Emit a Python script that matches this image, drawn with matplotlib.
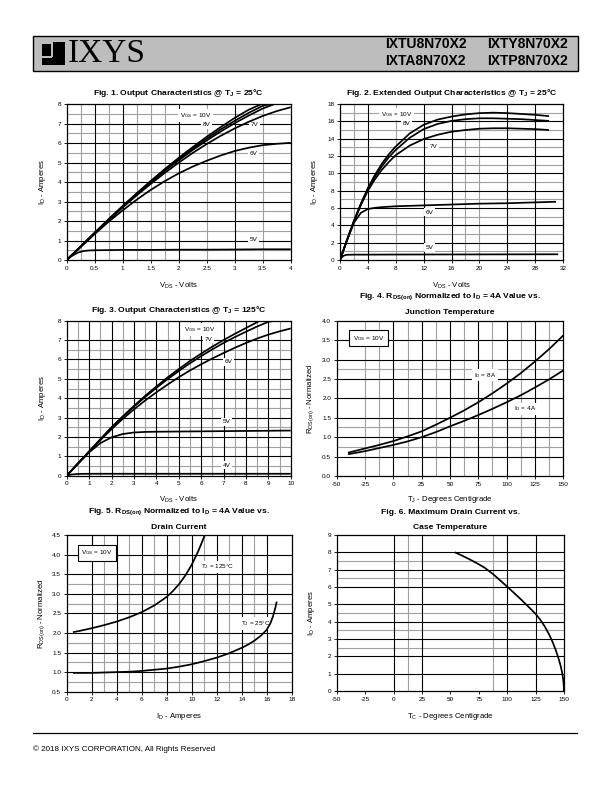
import matplotlib
matplotlib.use('Agg')
import matplotlib.pyplot as plt
from matplotlib.patches import Rectangle

plt.rcParams['font.family'] = ['Liberation Sans', 'DejaVu Sans']
plt.rcParams['mathtext.fontset'] = 'custom'
plt.rcParams['mathtext.rm'] = 'Liberation Sans'
plt.rcParams['mathtext.it'] = 'Liberation Sans:italic'
plt.rcParams['mathtext.bf'] = 'Liberation Sans:bold'

# ---- Fig. 1 data (Tj = 25C, 0-4 V) ----
f1_x10 = [0, 0.25, 0.5, 0.75, 1, 1.25, 1.5, 1.75, 2, 2.25, 2.5, 2.75, 3, 3.25, 3.47]
f1_y10 = [0, 0.7, 1.4, 2.1, 2.78, 3.43, 4.06, 4.67, 5.25, 5.8, 6.33, 6.83, 7.3, 7.72, 8.0]
f1_x9 = [0, 0.25, 0.5, 0.75, 1, 1.25, 1.5, 1.75, 2, 2.25, 2.5, 2.75, 3, 3.25, 3.5, 3.62]
f1_y9 = [0, 0.7, 1.4, 2.09, 2.76, 3.4, 4.02, 4.62, 5.18, 5.72, 6.23, 6.71, 7.15, 7.56, 7.92, 8.0]
f1_x8 = [0, 0.25, 0.5, 0.75, 1, 1.25, 1.5, 1.75, 2, 2.25, 2.5, 2.75, 3, 3.25, 3.5, 3.7]
f1_y8 = [0, 0.69, 1.39, 2.08, 2.74, 3.37, 3.98, 4.57, 5.12, 5.65, 6.14, 6.6, 7.03, 7.42, 7.78, 8.0]
f1_x = [0, 0.25, 0.5, 0.75, 1, 1.25, 1.5, 1.75, 2, 2.25, 2.5, 2.75, 3, 3.25, 3.5, 3.75, 4]
f1_y7 = [0, 0.68, 1.37, 2.05, 2.7, 3.32, 3.91, 4.47, 5.0, 5.5, 5.96, 6.38, 6.76, 7.1, 7.4, 7.65, 7.85]
f1_y6 = [0, 0.67, 1.33, 1.97, 2.55, 3.1, 3.6, 4.05, 4.45, 4.8, 5.1, 5.37, 5.6, 5.77, 5.9, 5.97, 6.02]
f1_x5 = [0, 0.1, 0.2, 0.3, 0.4, 0.5, 0.75, 1, 1.5, 2, 2.5, 3, 3.5, 4]
f1_y5 = [0, 0.22, 0.38, 0.46, 0.49, 0.5, 0.51, 0.52, 0.52, 0.53, 0.53, 0.54, 0.55, 0.55]

# ---- Fig. 2 data (extended, 0-32 V) ----
f2_x = [0, 1, 2, 3, 4, 5, 6, 7, 8, 10, 12, 14, 16, 18, 20, 22, 24, 26, 28, 30]
f2_y10 = [0, 2.3, 4.5, 6.5, 8.3, 9.8, 11.1, 12.2, 13.1, 14.6, 15.6, 16.2, 16.55, 16.8, 16.95, 17.0, 16.95, 16.85, 16.75, 16.6]
f2_y8 = [0, 2.3, 4.5, 6.45, 8.2, 9.6, 10.8, 11.85, 12.7, 14.1, 15.1, 15.7, 16.05, 16.25, 16.35, 16.35, 16.3, 16.25, 16.15, 16.05]
f2_y7 = [0, 2.3, 4.45, 6.35, 8.0, 9.3, 10.4, 11.3, 12.1, 13.2, 13.95, 14.45, 14.8, 15.0, 15.15, 15.2, 15.2, 15.15, 15.1, 15.0]
f2_x6 = [0, 1, 2, 3, 4, 5, 6, 8, 10, 12, 16, 20, 24, 28, 31]
f2_y6 = [0, 2.25, 4.3, 5.45, 5.88, 6.02, 6.1, 6.2, 6.25, 6.3, 6.4, 6.5, 6.55, 6.65, 6.72]
f2_x5 = [0, 0.25, 0.5, 0.75, 1, 2, 4, 8, 16, 24, 31.3]
f2_y5 = [0, 0.3, 0.48, 0.56, 0.6, 0.62, 0.62, 0.63, 0.64, 0.65, 0.66]

# ---- Fig. 3 data (Tj = 125C, 0-10 V) ----
f3_x10 = [0, 0.5, 1, 1.5, 2, 2.5, 3, 3.5, 4, 4.5, 5, 5.5, 6, 6.5, 7, 7.5, 8, 8.63]
f3_y10 = [0, 0.63, 1.25, 1.88, 2.5, 3.06, 3.6, 4.12, 4.6, 5.07, 5.5, 5.92, 6.3, 6.66, 7.0, 7.32, 7.62, 8.0]
f3_x7 = [0, 0.5, 1, 1.5, 2, 2.5, 3, 3.5, 4, 4.5, 5, 5.5, 6, 6.5, 7, 7.5, 8, 8.5, 9, 9.3]
f3_y7 = [0, 0.63, 1.25, 1.87, 2.48, 3.03, 3.56, 4.06, 4.53, 4.98, 5.4, 5.8, 6.17, 6.52, 6.85, 7.15, 7.43, 7.7, 7.94, 8.0]
f3_x6 = [0, 0.5, 1, 1.5, 2, 2.5, 3, 3.5, 4, 4.5, 5, 5.5, 6, 6.5, 7, 7.5, 8, 8.5, 9, 9.5, 10]
f3_y6 = [0, 0.62, 1.23, 1.83, 2.4, 2.93, 3.42, 3.88, 4.3, 4.7, 5.08, 5.43, 5.75, 6.05, 6.33, 6.6, 6.85, 7.08, 7.28, 7.45, 7.6]
f3_x5 = [0, 0.5, 1, 1.5, 2, 2.5, 3, 3.5, 4, 5, 6, 7, 8, 9, 10]
f3_y5 = [0, 0.62, 1.2, 1.68, 1.98, 2.15, 2.23, 2.26, 2.27, 2.28, 2.29, 2.3, 2.31, 2.32, 2.33]
f3_x4 = [0, 0.2, 0.5, 1, 2, 4, 6, 8, 10]
f3_y4 = [0, 0.06, 0.09, 0.1, 0.1, 0.1, 0.1, 0.1, 0.1]

# ---- Fig. 4 data (RDS(on) vs Tj) ----
f4_t = [-40, -25, -12.5, 0, 12.5, 25, 37.5, 50, 62.5, 75, 87.5, 100, 112.5, 125, 137.5, 150]
f4_r8 = [0.6, 0.71, 0.8, 0.9, 1.02, 1.15, 1.32, 1.5, 1.69, 1.9, 2.13, 2.38, 2.65, 2.95, 3.27, 3.62]
f4_r4 = [0.56, 0.64, 0.72, 0.8, 0.89, 1.0, 1.13, 1.28, 1.42, 1.57, 1.73, 1.9, 2.08, 2.28, 2.49, 2.72]

# ---- Fig. 5 data (RDS(on) vs ID) ----
f5_i125 = [0.5, 1, 2, 3, 4, 5, 6, 7, 8, 8.5, 9, 9.5, 10, 10.5, 10.8, 11.05]
f5_r125 = [2.02, 2.05, 2.12, 2.2, 2.29, 2.4, 2.53, 2.7, 2.92, 3.07, 3.25, 3.47, 3.74, 4.07, 4.3, 4.5]
f5_i25 = [0.5, 1, 2, 3, 4, 5, 6, 7, 8, 9, 10, 11, 12, 13, 14, 14.5, 15, 15.5, 16, 16.3, 16.5, 16.7, 16.8]
f5_r25 = [0.98, 0.98, 0.98, 0.99, 1.0, 1.01, 1.03, 1.06, 1.09, 1.14, 1.2, 1.28, 1.37, 1.48, 1.62, 1.7, 1.8, 1.92, 2.08, 2.25, 2.42, 2.65, 2.8]

# ---- Fig. 6 data (max ID vs Tc) ----
f6_tc = [54, 60, 65, 70, 75, 80, 87.5, 100, 106, 112.5, 118, 125, 129, 133, 137, 140,
         142.5, 144.5, 146, 147.3, 148.3, 149, 149.6, 150]
f6_id = [8.0, 7.82, 7.66, 7.49, 7.31, 7.12, 6.75, 6.02, 5.66, 5.26, 4.91, 4.45, 4.12, 3.73,
         3.25, 2.82, 2.4, 2.02, 1.7, 1.38, 1.08, 0.8, 0.48, 0.0]

W, H = 612, 792
fig = plt.figure(figsize=(6.12, 7.92), dpi=100)


def px_axes(x0, y0, x1, y1):
    return fig.add_axes([x0 / W, 1 - y1 / H, (x1 - x0) / W, (y1 - y0) / H])


GRAY = '#a0a0a0'
LW = 1.25
TICK_FS = 4.6
LAB_FS = 5.6
TITLE_FS = 6.1
NOTE_FS = 4.6


def setup(ax, xlim, ylim, xticks, yticks, xlabels, ylabels, bx, gx, by, gy,
          xlabel, ylabel, titles, xl_y, yl_x):
    ax.set_xlim(*xlim)
    ax.set_ylim(*ylim)
    for v in gx:
        ax.axvline(v, color=GRAY, lw=0.8, zorder=1)
    for v in gy:
        ax.axhline(v, color=GRAY, lw=0.8, zorder=1)
    for v in bx:
        ax.axvline(v, color='black', lw=0.8, zorder=1.5)
    for v in by:
        ax.axhline(v, color='black', lw=0.8, zorder=1.5)
    ax.set_xticks(xticks)
    ax.set_xticklabels(xlabels, fontsize=TICK_FS)
    ax.set_yticks(yticks)
    ax.set_yticklabels(ylabels, fontsize=TICK_FS)
    ax.tick_params(direction='out', length=2, width=0.6, pad=2)
    for s in ax.spines.values():
        s.set_linewidth(0.9)
    ax.set_xlabel(xlabel, fontsize=LAB_FS)
    ax.set_ylabel(ylabel, fontsize=LAB_FS)
    ax.xaxis.set_label_coords(0.5, xl_y)
    ax.yaxis.set_label_coords(yl_x, 0.5)
    # title lines placed one by one (mathtext would stretch the line spacing)
    for s, ty in titles:
        ax.text(0.5, ty, s, transform=ax.transAxes, ha='center', va='center',
                fontsize=TITLE_FS, fontweight='bold')


def note(ax, x, y, s, boxed=False):
    if boxed:
        bb = dict(facecolor='white', edgecolor='black', linewidth=0.8, pad=2.5)
    else:
        bb = dict(facecolor='white', edgecolor='none', pad=1.2)
    ax.text(x, y, s, fontsize=NOTE_FS, ha='center', va='center', bbox=bb, zorder=3)


def curve(ax, x, y):
    ax.plot(x, y, color='black', lw=LW, zorder=4, solid_capstyle='butt')


VDS = r'V$_{\rm DS}$ - Volts'
IDA = r'I$_{\rm D}$ - Amperes'
VGS10 = r'V$_{\rm GS}$ = 10V'
RDS = r'R$_{\rm DS(on)}$ - Normalized'
RDS_TITLE = r'R$_{\bf DS(on)}$ Normalized to I$_{\bf D}$ = 4A Value vs.'

# Fig. 1
ax1 = px_axes(66.7, 104.3, 290.7, 260)
setup(ax1, (0, 4), (0, 8),
      [0, 0.5, 1, 1.5, 2, 2.5, 3, 3.5, 4], range(9),
      ['0', '0.5', '1', '1.5', '2', '2.5', '3', '3.5', '4'], [str(i) for i in range(9)],
      [0.5, 1, 2, 3], [0.25, 0.75, 1.25, 1.5, 1.75, 2.5, 3.5],
      range(1, 8), [0.5 + i for i in range(8)],
      VDS, IDA, [(r'Fig. 1. Output Characteristics @ T$_{\bf J}$ = 25°C', 1.07)], -0.135, -0.083)
for xs, ys in [(f1_x10, f1_y10), (f1_x9, f1_y9), (f1_x8, f1_y8), (f1_x, f1_y7),
               (f1_x, f1_y6), (f1_x5, f1_y5)]:
    curve(ax1, xs, ys)
note(ax1, 2.3, 7.42, VGS10)
note(ax1, 2.5, 6.97, '8V')
note(ax1, 3.36, 6.97, '7V')
note(ax1, 3.33, 5.48, '6V')
note(ax1, 3.33, 1.03, '5V')

# Fig. 2
ax2 = px_axes(340, 104, 563, 260)
setup(ax2, (0, 32), (0, 18),
      range(0, 33, 4), range(0, 19, 2),
      [str(i) for i in range(0, 33, 4)], [str(i) for i in range(0, 19, 2)],
      [4, 12, 16, 24, 28], [2, 8, 18, 20],
      range(2, 17, 2), range(1, 18, 2),
      VDS, IDA, [(r'Fig. 2. Extended Output Characteristics @ T$_{\bf J}$ = 25°C', 1.07)],
      -0.135, -0.09)
for ys in [f2_y10, f2_y8, f2_y7]:
    curve(ax2, f2_x, ys)
curve(ax2, f2_x6, f2_y6)
curve(ax2, f2_x5, f2_y5)
note(ax2, 8.1, 16.84, VGS10)
note(ax2, 9.55, 15.72, '8V')
note(ax2, 13.4, 13.1, '7V')
note(ax2, 12.9, 5.5, '6V')
note(ax2, 12.9, 1.43, '5V')

# Fig. 3
ax3 = px_axes(66.7, 320.7, 290.7, 475.7)
setup(ax3, (0, 10), (0, 8),
      range(11), range(9),
      [str(i) for i in range(11)], [str(i) for i in range(9)],
      range(1, 10), [0.5 + i for i in range(10)],
      range(1, 8), [0.5 + i for i in range(7)],
      VDS, IDA, [(r'Fig. 3. Output Characteristics @ T$_{\bf J}$ = 125°C', 1.069)], -0.124, -0.083)
curve(ax3, f3_x10, f3_y10)
curve(ax3, f3_x7, f3_y7)
curve(ax3, f3_x6, f3_y6)
curve(ax3, f3_x5, f3_y5)
curve(ax3, f3_x4, f3_y4)
note(ax3, 5.95, 7.55, VGS10)
note(ax3, 6.32, 7.04, '7V')
note(ax3, 7.22, 5.88, '6V')
note(ax3, 7.14, 2.78, '5V')
note(ax3, 7.14, 0.55, '4V')

# Fig. 4
ax4 = px_axes(336.7, 320.7, 563.3, 476)
setup(ax4, (-50, 150), (0, 4),
      range(-50, 151, 25), [i * 0.5 for i in range(9)],
      [str(i) for i in range(-50, 151, 25)], ['%.1f' % (i * 0.5) for i in range(9)],
      range(0, 126, 25), [-25, -12.5, 12.5, 37.5, 62.5, 87.5, 112.5, 137.5],
      [0.5 * i for i in range(1, 8)], [0.75, 1.25, 2.75],
      r'T$_{\rm J}$ - Degrees Centigrade', RDS,
      [('Fig. 4. ' + RDS_TITLE, 1.153), ('Junction Temperature', 1.056)],
      -0.116, -0.091)
curve(ax4, f4_t, f4_r8)
curve(ax4, f4_t, f4_r4)
note(ax4, -22, 3.55, VGS10, boxed=True)
note(ax4, 81, 2.6, r'I$_{\rm D}$ = 8A')
note(ax4, 116, 1.73, r'I$_{\rm D}$ = 4A')

# Fig. 5
ax5 = px_axes(66.7, 535, 291.7, 691.7)
setup(ax5, (0, 18), (0.5, 4.5),
      range(0, 19, 2), [0.5 * i for i in range(1, 10)],
      [str(i) for i in range(0, 19, 2)], ['%.1f' % (0.5 * i) for i in range(1, 10)],
      range(2, 17, 2), range(3, 16, 2),
      [0.5 * i for i in range(2, 9)], [0.75, 1.25, 1.75, 2.75, 3.25],
      IDA, RDS,
      [('Fig. 5. ' + RDS_TITLE, 1.147), ('Drain Current', 1.051)],
      -0.123, -0.088)
curve(ax5, f5_i125, f5_r125)
curve(ax5, f5_i25, f5_r25)
note(ax5, 2.4, 4.04, VGS10, boxed=True)
note(ax5, 12.1, 3.69, r'T$_{\rm J}$ = 125°C')
note(ax5, 15.1, 2.24, r'T$_{\rm J}$ = 25°C')

# Fig. 6
ax6 = px_axes(336.7, 535, 564, 691)
setup(ax6, (-50, 150), (0, 9),
      range(-50, 151, 25), range(10),
      [str(i) for i in range(-50, 151, 25)], [str(i) for i in range(10)],
      [0, 25, 100, 125], [12.5, 87.5],
      range(1, 9), [2.5, 3.5, 4.5, 6.5, 7.5],
      r'T$_{\rm C}$ - Degrees Centigrade', IDA,
      [('Fig. 6. Maximum Drain Current vs.', 1.147), ('Case Temperature', 1.051)],
      -0.128, -0.087)
curve(ax6, f6_tc, f6_id)

# page decorations (header, footer) in pixel coordinates
pg = fig.add_axes([0, 0, 1, 1], zorder=-1)
pg.set_xlim(0, W)
pg.set_ylim(H, 0)
pg.axis('off')
pg.add_patch(Rectangle((33, 36), 545, 35, facecolor='#bdbdbd', edgecolor='black', lw=1.0))
# logo
pg.add_patch(Rectangle((42, 42), 23, 23, facecolor='black', edgecolor='none'))
pg.add_patch(Rectangle((51, 42), 1.6, 15, facecolor='#bdbdbd', edgecolor='none'))
pg.add_patch(Rectangle((42, 56), 10, 1.6, facecolor='#bdbdbd', edgecolor='none'))
pg.add_patch(Rectangle((42, 42), 9, 1.6, facecolor='#bdbdbd', edgecolor='none'))
pg.text(68, 54, 'IXYS', family=['Liberation Serif', 'DejaVu Serif'], fontsize=24,
        ha='left', va='center')
for x, y, s in [(385, 44, 'IXTU8N70X2'), (487, 44, 'IXTY8N70X2'),
                (385, 61, 'IXTA8N70X2'), (487, 61, 'IXTP8N70X2')]:
    pg.text(x, y, s, fontsize=10, fontweight='bold', ha='left', va='center')
pg.plot([33, 577], [733, 733], color='black', lw=0.9)
pg.text(33, 749, '© 2018 IXYS CORPORATION, All Rights Reserved', fontsize=5.8,
        ha='left', va='center')

fig.savefig('out.png', dpi=100)
